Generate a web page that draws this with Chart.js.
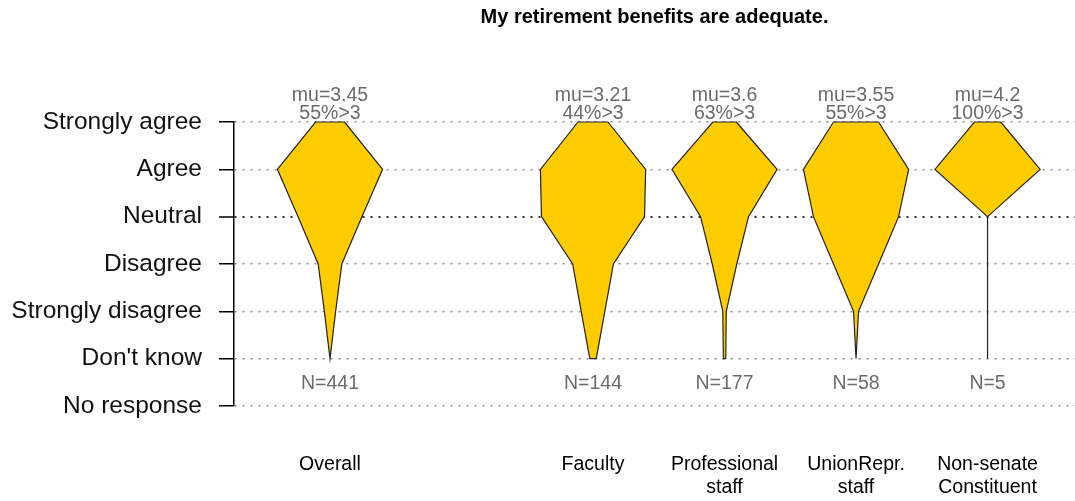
<!DOCTYPE html>
<html>
<head>
<meta charset="utf-8">
<script src="https://cdn.jsdelivr.net/npm/chart.js@4.4.1/dist/chart.umd.min.js"></script>
<style>
  body { margin: 0; background: #fff; }
</style>
</head>
<body>
<canvas id="violinChart" width="1075" height="501"></canvas>
<script>
// categories along x (empty string = blank slot)
const groups = ['Overall', '', 'Faculty', 'Professional staff', 'UnionRepr. staff', 'Non-senate Constituent'];
// answer levels, value -1..5
const levels = ['No response', "Don't know", 'Strongly disagree', 'Disagree', 'Neutral', 'Agree', 'Strongly agree'];

// response counts per level, order: Don't know, Strongly disagree, Disagree, Neutral, Agree, Strongly agree
const countsOverall = [0, 21, 44, 119, 196, 54];
const countsFaculty = [3, 11, 19, 48, 49, 14];
const countsProfessional = [2, 3, 21, 41, 90, 20];
const countsUnion = [0, 1, 9, 17, 21, 9];
const countsNonSenate = [0, 0, 0, 0, 4, 1];

const means = [3.45, 3.21, 3.6, 3.55, 4.2];
const pctAbove = [55, 44, 63, 55, 100];
const totals = [441, 144, 177, 58, 5];

const allCounts = [countsOverall, countsFaculty, countsProfessional, countsUnion, countsNonSenate];
const slots = groups.map((g, i) => i).filter(i => groups[i] !== '');

const halfMax = 0.4;
const datasets = [];
allCounts.forEach(function (counts, k) {
    const x0 = slots[k];
    const peak = Math.max(...counts);
    const hw = counts.map(c => c / peak * halfMax);
    const pts = [];
    for (let v = 5; v >= 0; v--) pts.push({x: x0 + hw[v], y: v});
    for (let v = 0; v <= 5; v++) pts.push({x: x0 - hw[v], y: v});
    pts.push(pts[0]);
    datasets.push({
        data: pts,
        borderColor: '#222',
        borderWidth: 1.2,
        backgroundColor: '#FFCC00',
        fill: 'shape',
        pointRadius: 0,
        tension: 0,
        clip: false,
    });
    datasets.push({
        data: [{x: x0 - 0.2, y: means[k]}, {x: x0 + 0.2, y: means[k]}],
        borderColor: '#111',
        borderWidth: 2.5,
        fill: false,
        pointRadius: 0,
        clip: false,
    });
});

const labelPlugin = {
    id: 'groupLabels',
    afterDatasetsDraw(chart) {
        const ctx = chart.ctx;
        const xs = chart.scales.x;
        const ys = chart.scales.y;
        ctx.save();
        ctx.font = '19.5px "Liberation Sans", Arial, sans-serif';
        ctx.fillStyle = '#6b6b6b';
        ctx.textAlign = 'center';
        ctx.textBaseline = 'middle';
        slots.forEach(function (s, k) {
            const px = xs.getPixelForValue(s);
            ctx.fillText('mu=' + means[k], px, ys.getPixelForValue(5.56));
            ctx.fillText(pctAbove[k] + '%>3', px, ys.getPixelForValue(5.18));
            ctx.fillText('N=' + totals[k], px, ys.getPixelForValue(-0.52));
        });
        ctx.restore();
    }
};

const ctx = document.getElementById('violinChart').getContext('2d');
const violinChart = new Chart(ctx, {
    type: 'line',
    data: { datasets: datasets },
    plugins: [labelPlugin],
    options: {
        responsive: false,
        animation: false,
        layout: { autoPadding: false, padding: { left: 0, right: 0, top: 0, bottom: 0 } },
        scales: {
            x: {
                type: 'linear',
                min: -0.73,
                max: 5.665,
                afterBuildTicks: function (scale) {
                    scale.ticks = slots.map(v => ({value: v}));
                },
                afterFit: function (scale) {
                    scale.height = 95;
                    scale.paddingLeft = 0;
                    scale.paddingRight = 0;
                },
                grid: { display: false, drawTicks: false },
                border: { display: false },
                ticks: {
                    autoSkip: false,
                    maxRotation: 0,
                    padding: 47,
                    color: '#000',
                    font: { family: '"Liberation Sans", Arial, sans-serif', size: 19.5, lineHeight: 1.2 },
                    callback: function (v) { return groups[v].split(' '); }
                }
            },
            y: {
                type: 'linear',
                min: -1,
                max: 5,
                afterBuildTicks: function (scale) {
                    scale.ticks = levels.map((l, i) => ({value: i - 1}));
                },
                afterFit: function (scale) { scale.width = 234; },
                grid: {
                    color: function (c) { return c.tick && c.tick.value === 3 ? '#333' : '#8a8a8a'; },
                    lineWidth: function (c) { return c.tick && c.tick.value === 3 ? 2 : 1.5; },
                    tickColor: '#000',
                    tickLength: 15,
                    tickWidth: 1.5,
                    tickBorderDash: [],
                },
                border: { display: true, color: '#000', width: 1.5, dash: [2, 6] },
                ticks: {
                    padding: 17,
                    color: '#111',
                    font: { family: '"Liberation Sans", Arial, sans-serif', size: 24.5 },
                    callback: function (v) { return levels[v + 1]; }
                }
            }
        },
        plugins: {
            legend: { display: false },
            tooltip: { enabled: false },
            title: {
                display: true,
                fullSize: false,
                text: 'My retirement benefits are adequate.',
                color: '#000',
                font: { family: '"Liberation Sans", Arial, sans-serif', size: 20, weight: 'bold' },
                padding: { top: 5, bottom: 93 }
            }
        }
    }
});
</script>
</body>
</html>
